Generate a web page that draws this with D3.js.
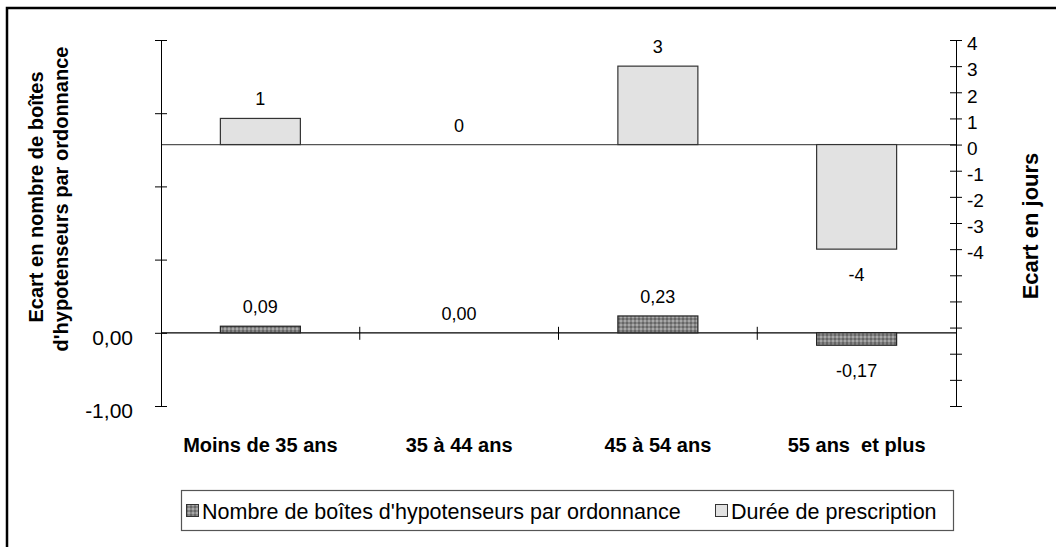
<html>
<head>
<meta charset="utf-8">
<style>
  body { margin: 0; background: #fff; }
  text { font-family: "Liberation Sans", Arial, sans-serif; fill: #000; }
  .bold { font-weight: bold; }
</style>
</head>
<body>
<svg id="chart" width="1056" height="547"></svg>
<script src="https://d3js.org/d3.v7.min.js"></script>
<script>
// data
var categories = ["Moins de 35 ans", "35 à 44 ans", "45 à 54 ans", "55 ans  et plus"];
var boites = [0.09, 0.00, 0.23, -0.17];   // Nombre de boîtes (left axis)
var duree = [1, 0, 3, -4];                // Durée de prescription (right axis, jours)
var leftTicks = [-1, 0, 1, 2, 3, 4];
var leftTickLabels = ["-1,00", "0,00", "", "", "", ""];
var rightTicks = d3.range(-10, 5);
var rightTickLabels = rightTicks.map(function(v) { return v >= -4 ? String(v) : ""; });
var legendLabels = ["Nombre de boîtes d'hypotenseurs par ordonnance", "Durée de prescription"];

var fr = d3.formatLocale({decimal: ",", thousands: " ", grouping: [3], currency: ["", " €"], minus: "-"});
var fmt2 = fr.format(".2f");

var svg = d3.select("#chart");
var mLeft = 161, mRight = 956, mTop = 40, mBottom = 406;

var x = d3.scaleBand().domain(categories).range([mLeft, mRight]);
var yL = d3.scaleLinear().domain([-1, 4]).range([mBottom, mTop]);
var yR = d3.scaleLinear().domain([-10, 4]).range([mBottom, mTop]);
var barW = 80;

// pattern for the dark bars
var defs = svg.append("defs");
var pat = defs.append("pattern").attr("id", "dots").attr("patternUnits", "userSpaceOnUse")
  .attr("width", 4).attr("height", 4);
pat.append("rect").attr("width", 4).attr("height", 4).attr("fill", "#858585");
pat.append("rect").attr("x", 0).attr("y", 0).attr("width", 2).attr("height", 2).attr("fill", "#a8a8a8");
pat.append("rect").attr("x", 2).attr("y", 2).attr("width", 2).attr("height", 2).attr("fill", "#666");

// outer frame (only left/top visible)
svg.append("rect").attr("x", 7).attr("y", 8).attr("width", 1100).attr("height", 600)
  .attr("fill", "none").attr("stroke", "#000").attr("stroke-width", 2.5);

// zero lines
svg.append("line").attr("x1", mLeft).attr("x2", mRight).attr("y1", yR(0)).attr("y2", yR(0))
  .attr("stroke", "#555").attr("stroke-width", 1.2);
svg.append("line").attr("x1", mLeft).attr("x2", mRight).attr("y1", yL(0)).attr("y2", yL(0))
  .attr("stroke", "#000").attr("stroke-width", 1.2);

// category separators on the 0 line
svg.selectAll(".sep").data(categories.slice(1)).enter().append("line")
  .attr("x1", function(d) { return x(d); }).attr("x2", function(d) { return x(d); })
  .attr("y1", yL(0) - 6).attr("y2", yL(0) + 7)
  .attr("stroke", "#000");

// left axis
var axL = d3.axisLeft(yL).tickValues(leftTicks).tickSize(0).tickFormat(function(d, i) { return leftTickLabels[i]; });
var gL = svg.append("g").attr("transform", "translate(" + mLeft + ",0)").call(axL);
gL.select(".domain").attr("stroke", "#000");
gL.selectAll(".tick line").attr("x1", -6).attr("x2", 6).attr("stroke", "#000");
gL.selectAll(".tick text").attr("x", -28).attr("dy", "0.7em").attr("y", -3)
  .style("font-family", "Liberation Sans, Arial, sans-serif").style("font-size", "21px").attr("fill", "#000");

// right axis
var axR = d3.axisRight(yR).tickValues(rightTicks).tickSize(0).tickFormat(function(d, i) { return rightTickLabels[i]; });
var gR = svg.append("g").attr("transform", "translate(" + mRight + ",0)").call(axR);
gR.select(".domain").attr("stroke", "#000");
gR.selectAll(".tick line").attr("x1", -6).attr("x2", 6).attr("stroke", "#000");
gR.selectAll(".tick text").attr("x", 11).attr("dy", "0.62em").attr("y", -2)
  .style("font-family", "Liberation Sans, Arial, sans-serif").style("font-size", "19px").attr("fill", "#000");

// bars: durée (light)
svg.selectAll(".bar2").data(duree).enter().append("rect")
  .attr("x", function(d, i) { return x(categories[i]) + x.bandwidth() / 2 - barW / 2; })
  .attr("y", function(d) { return yR(Math.max(0, d)); })
  .attr("width", barW)
  .attr("height", function(d) { return Math.abs(yR(d) - yR(0)); })
  .attr("fill", "#e2e2e2").attr("stroke", function(d) { return d === 0 ? "none" : "#333"; }).attr("stroke-width", 1.2);

// bars: boîtes (dark pattern)
svg.selectAll(".bar1").data(boites).enter().append("rect")
  .attr("x", function(d, i) { return x(categories[i]) + x.bandwidth() / 2 - barW / 2; })
  .attr("y", function(d) { return yL(Math.max(0, d)); })
  .attr("width", barW)
  .attr("height", function(d) { return Math.abs(yL(d) - yL(0)); })
  .attr("fill", "url(#dots)").attr("stroke", function(d) { return d === 0 ? "none" : "#222"; }).attr("stroke-width", 1.2);

// value labels
function valueLabels(data, scale, f) {
  svg.append("g").selectAll("text").data(data).enter().append("text")
    .attr("x", function(d, i) { return x(categories[i]) + x.bandwidth() / 2; })
    .attr("y", function(d) { return d >= 0 ? scale(d) - 13 : scale(d) + 32; })
    .attr("text-anchor", "middle").style("font-size", "18px")
    .text(f);
}
valueLabels(duree, yR, function(d) { return String(d); });
valueLabels(boites, yL, function(d) { return fmt2(d); });

// category labels
svg.append("g").selectAll("text").data(categories).enter().append("text")
  .attr("class", "bold")
  .attr("x", function(d) { return x(d) + x.bandwidth() / 2; })
  .attr("y", 452)
  .attr("text-anchor", "middle").style("font-size", "20px").style("white-space", "pre")
  .text(function(d) { return d; });

// axis titles
svg.append("text").attr("class", "bold").attr("transform", "translate(43,197) rotate(-90)")
  .attr("text-anchor", "middle").style("font-size", "20px").text("Ecart en nombre de boîtes");
svg.append("text").attr("class", "bold").attr("transform", "translate(68,199) rotate(-90)")
  .attr("text-anchor", "middle").style("font-size", "20px").text("d'hypotenseurs par ordonnance");
svg.append("text").attr("class", "bold").attr("transform", "translate(1038,226) rotate(-90)")
  .attr("text-anchor", "middle").style("font-size", "22px").text("Ecart en jours");

// legend
var lg = svg.append("g");
lg.append("rect").attr("x", 181.5).attr("y", 490.5).attr("width", 772).attr("height", 40)
  .attr("fill", "#fff").attr("stroke", "#555").attr("stroke-width", 1.2);
var legendItems = [
  {label: legendLabels[0], fill: "url(#dots)", sx: 186},
  {label: legendLabels[1], fill: "#e2e2e2", sx: 715}
];
lg.selectAll(".sw").data(legendItems).enter().append("rect")
  .attr("x", function(d) { return d.sx + 0.5; }).attr("y", 504.5).attr("width", 12).attr("height", 12)
  .attr("fill", function(d) { return d.fill; }).attr("stroke", "#333");
lg.selectAll(".lt").data(legendItems).enter().append("text")
  .attr("x", function(d) { return d.sx + 16; }).attr("y", 519)
  .style("font-size", "21.5px").text(function(d) { return d.label; });
</script>
</body>
</html>
